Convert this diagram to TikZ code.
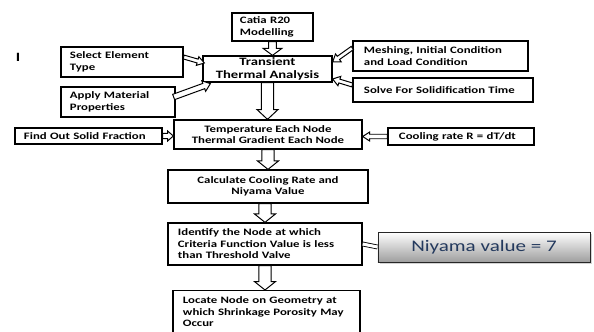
\documentclass[tikz,border=0pt]{standalone}
\usepackage{fontspec}
\setmainfont{Carlito}
\newfontfamily\boxfont[FakeStretch=1.3]{Carlito}
\usetikzlibrary{calc,shadows}
\definecolor{niyamablue}{RGB}{36,58,94}

% hollow block arrow: tail, tip, half shaft, half head, head length
\newcommand{\blockarrow}[5]{%
  \path let \p1=(#1), \p2=(#2) in \pgfextra{%
    \pgfmathsetmacro\arrlen{veclen(\x2-\x1,\y2-\y1)}%
    \pgfmathsetmacro\arrang{atan2(\y2-\y1,\x2-\x1)}%
    \xdef\arrlen{\arrlen}\xdef\arrang{\arrang}};
  \draw[hollow,shift={(#1)},rotate=\arrang]
    (0pt,#3) -- ({\arrlen pt-#5},#3) -- ({\arrlen pt-#5},#4) -- (\arrlen pt,0pt)
    -- ({\arrlen pt-#5},-#4) -- ({\arrlen pt-#5},-#3) -- (0pt,-#3) -- cycle;
}

\begin{document}
\begin{tikzpicture}[x=0.025cm,y=-0.025cm,line join=miter,
	box/.style={draw,line width=0.9pt,fill=white,inner sep=0pt,align=center,
		font=\boxfont\bfseries\fontsize{7pt}{8.2pt}\selectfont},
	leftbox/.style={box,align=left},
	hollow/.style={draw,fill=white,line width=0.7pt}]
	\clip (0,0) rectangle (594,331);
	% main column
	\node[leftbox,text width=1.625cm,inner xsep=0.2cm,minimum height=0.7cm] (catia) at (272.5,27) {Catia R20\\Modelling};
	\node[box,minimum width=3.225cm,minimum height=0.65cm,font=\boxfont\bfseries\fontsize{8pt}{9pt}\selectfont] (trans) at (267.5,69) {Transient\\Thermal Analysis};
	\node[box,minimum width=4.7cm,minimum height=0.725cm] (temp) at (268,134.5) {Temperature Each Node\\Thermal Gradient Each Node};
	\node[box,minimum width=5cm,minimum height=0.825cm] (calc) at (268,186.5) {Calculate Cooling Rate and\\Niyama Value};
	\node[leftbox,text width=4.35cm,inner xsep=0.25cm,minimum height=1.05cm] (ident) at (265,244) {Identify the Node at which\\Criteria Function Value is less\\than Threshold Valve};
	\node[leftbox,text width=4.175cm,inner xsep=0.25cm,inner ysep=0.15cm,text depth=0.6cm,anchor=north] (locate) at (266.5,290) {Locate Node on Geometry at\\which Shrinkage Porosity May\\Occur};
	% side inputs
	\node[leftbox,text width=2.6cm,inner xsep=0.225cm,minimum height=0.75cm] (select) at (122,62) {Select Element\\Type};
	\node[leftbox,text width=2.4cm,inner xsep=0.225cm,minimum height=0.75cm] (apply) at (118,102) {Apply Material\\Properties};
	\node[leftbox,text width=3.825cm,inner xsep=0.275cm,minimum height=0.75cm] (mesh) at (440.5,56) {Meshing, Initial Condition\\and Load Condition};
	\node[leftbox,text width=3.95cm,inner xsep=0.275cm,minimum height=0.6cm] (solve) at (443,90) {Solve For Solidification Time};
	\node[leftbox,text width=3.225cm,inner xsep=0.225cm,minimum height=0.4cm] (find) at (88.5,136) {Find Out Solid Fraction};
	\node[leftbox,text width=3.1cm,inner xsep=0.275cm,minimum height=0.425cm] (cool) at (461,136.5) {Cooling rate R = dT/dt};
	\node[draw=black!85,line width=0.6pt,top color=white,bottom color=black!38,
		drop shadow={shadow xshift=1.5pt,shadow yshift=-1.5pt,opacity=0.35},
		minimum width=5.3cm,minimum height=0.75cm,text=niyamablue,
		font=\boxfont\fontsize{11.5pt}{13pt}\selectfont] (niyama) at (484,247) {Niyama value = 7};
	\node[font=\boxfont\bfseries\fontsize{9pt}{10pt}\selectfont] (mark) at (18,57) {I};
	% arrows
	\blockarrow{catia.south}{catia.south |- trans.north}{2.8pt}{6.7pt}{5pt}
	\blockarrow{trans.south}{trans.south |- temp.north}{4.3pt}{7.5pt}{7pt}
	\blockarrow{temp.south}{temp.south |- calc.north}{4.3pt}{7.5pt}{6pt}
	\blockarrow{calc.south -| ident.north}{ident.north}{4.3pt}{7.5pt}{6pt}
	\blockarrow{ident.south}{ident.south |- locate.north}{4.3pt}{7.5pt}{6pt}
	\blockarrow{$(select.east)+(0,-5)$}{$(trans.west)+(2,-6)$}{1.4pt}{3.2pt}{5pt}
	\blockarrow{$(apply.east)+(-2,-5)$}{$(trans.south west)+(8,1)$}{2pt}{4pt}{5pt}
	\blockarrow{$(mesh.west)+(0,-8)$}{$(trans.east)+(0,-7)$}{1.4pt}{3.5pt}{5pt}
	\blockarrow{$(solve.west)+(0,-5)$}{$(trans.east)+(0,10)$}{1.4pt}{3.5pt}{5pt}
	\blockarrow{find.east}{temp.west |- find.east}{1.8pt}{3.5pt}{4pt}
	\blockarrow{cool.west}{temp.east |- cool.west}{1.6pt}{3.2pt}{5pt}
	\draw[double,double distance=2.2pt,line width=0.6pt] (ident.east) -- (niyama.west);
\end{tikzpicture}
\end{document}
